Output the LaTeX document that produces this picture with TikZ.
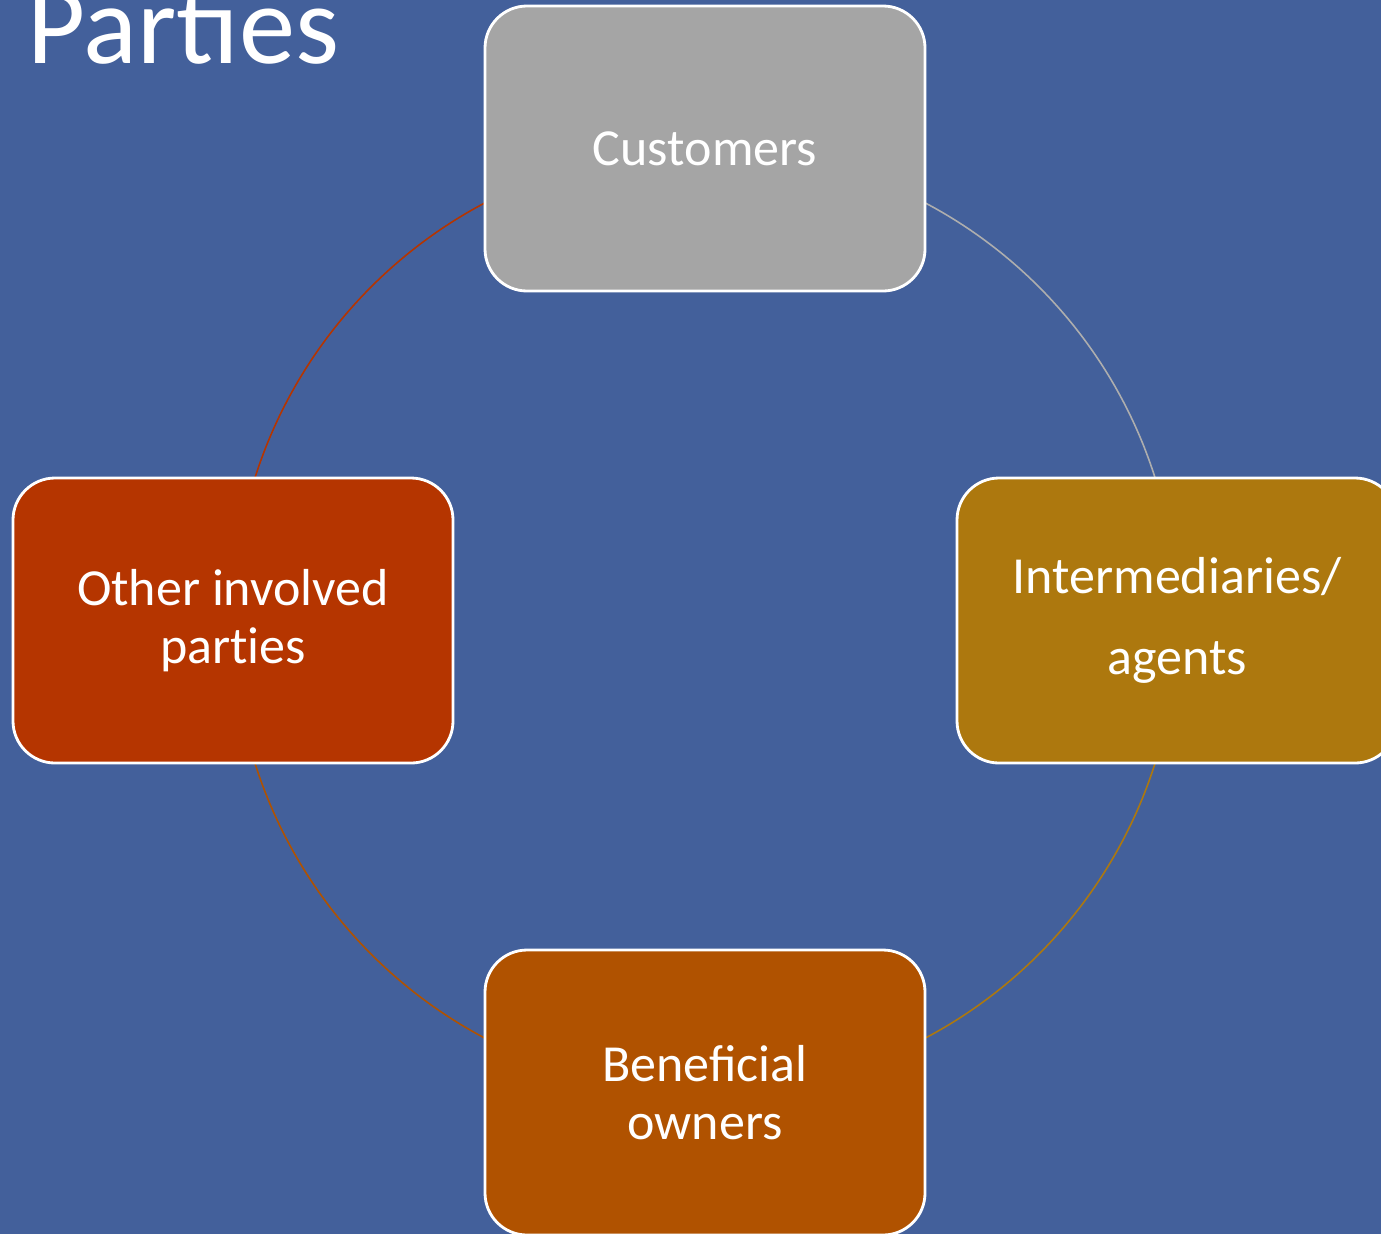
\documentclass[tikz,border=0pt]{standalone}
\usepackage{fontspec}
\setmainfont{Carlito}
\usepackage{tikz}
\usetikzlibrary{positioning, backgrounds}
\usepackage{xcolor}

\definecolor{slideblue}{HTML}{43609B}
\definecolor{custgray}{HTML}{A5A5A5}
\definecolor{intergold}{HTML}{AD780E}
\definecolor{benebrown}{HTML}{B05200}
\definecolor{otherred}{HTML}{B53500}

\begin{document}
\begin{tikzpicture}[node distance=4.72cm and 4.72cm, on grid]
  \tikzstyle{party}=[draw=white, line width=0.8pt, rounded corners=0.42cm,
    minimum width=4.4cm, minimum height=2.85cm, inner sep=0pt,
    text=white, align=center, font=\fontsize{14.8}{16.5}\selectfont]
  \tikzstyle{ring}=[line width=0.45pt]

  \useasboundingbox (0,0) rectangle (13.81,12.34);
  \clip (0,0) rectangle (13.81,12.34);

  \node[text=white, anchor=base west, inner sep=0pt,
        font=\fontsize{32}{36}\selectfont] (title) at (0.27,11.71) {Parties};

  \node[party, fill=custgray]  (cust) at (7.05,10.855) {Customers};
  \node[party, fill=intergold] (inter) [below right=of cust]
    {Intermediaries/\\[6.5pt]agents};
  \node[party, fill=benebrown] (bene) [below=9.44cm of cust] {Beneficial\\owners};
  \node[party, fill=otherred]  (other) [below left=of cust] {Other involved\\par\mbox{t}ies};

  \begin{pgfonlayer}{background}
    \fill[slideblue] (0,0) rectangle (13.81,12.34);
    \draw[ring, draw=custgray!90!white] (cust.center) arc[start angle=90, end angle=0, radius=4.72cm];
    \draw[ring, draw=intergold] (inter.center) arc[start angle=0, end angle=-90, radius=4.72cm];
    \draw[ring, draw=benebrown] (bene.center) arc[start angle=-90, end angle=-180, radius=4.72cm];
    \draw[ring, draw=otherred] (other.center) arc[start angle=180, end angle=90, radius=4.72cm];
  \end{pgfonlayer}
\end{tikzpicture}
\end{document}
